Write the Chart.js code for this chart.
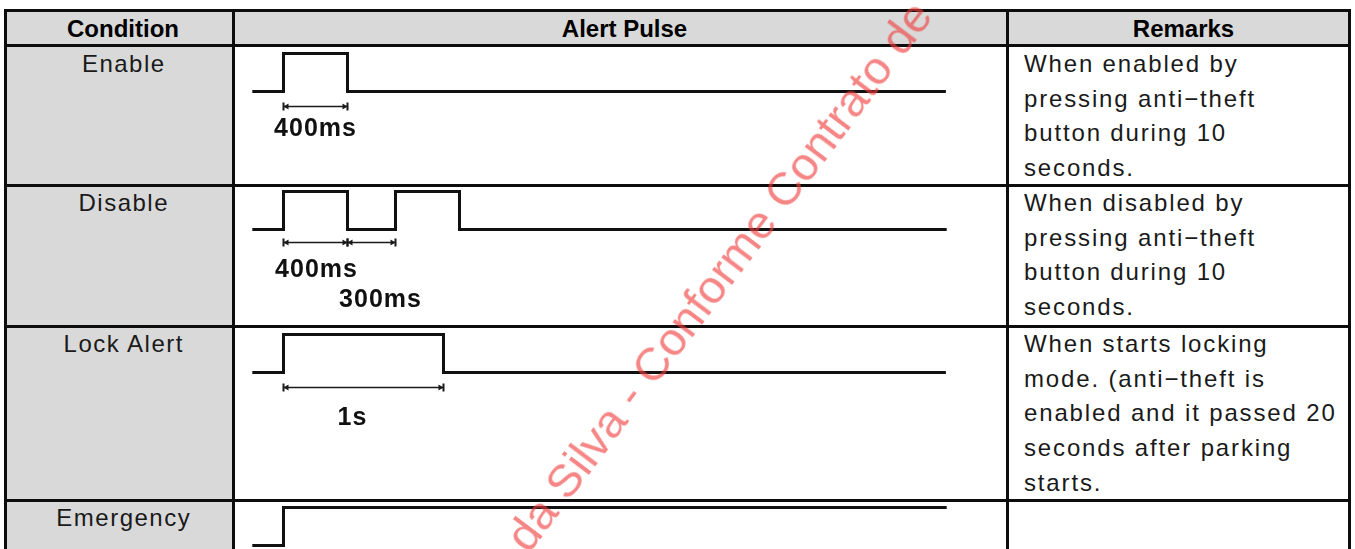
<!DOCTYPE html>
<html><head><meta charset="utf-8">
<script src="https://cdn.jsdelivr.net/npm/chart.js@4.4.0/dist/chart.umd.min.js"></script>
<style>
html,body{margin:0;padding:0;background:#fff;}
#page{position:relative;width:1355px;height:549px;overflow:hidden;background:#fff;font-family:"Liberation Sans",Arial,sans-serif;}
.fill{position:absolute;background:#d9d9d9;}
.hl{position:absolute;background:#0d0d0d;height:3px;}
.vl{position:absolute;background:#0d0d0d;width:3px;}
.hdr{position:absolute;font-weight:bold;font-size:24px;line-height:34px;color:#000;text-align:center;white-space:nowrap;width:400px;}
.cond{position:absolute;font-size:24px;line-height:34.7px;color:#1a1a1a;letter-spacing:1.5px;white-space:nowrap;text-align:center;width:300px;}
.rem{position:absolute;font-size:24px;line-height:34.7px;color:#1a1a1a;letter-spacing:1.85px;white-space:nowrap;}
canvas{position:absolute;}
#wm{position:absolute;font-size:47px;line-height:46px;color:rgba(240,60,60,0.62);white-space:nowrap;transform-origin:0 50%;transform:rotate(-53deg);pointer-events:none;z-index:10;}
</style></head><body><div id="page"></div>
<script>
// ---- data ----
const headers = ['Condition', 'Alert Pulse', 'Remarks'];
const conditions = ['Enable', 'Disable', 'Lock Alert', 'Emergency'];
const remarks = [
  ['When enabled by', 'pressing anti\u2212theft', 'button during 10', 'seconds.'],
  ['When disabled by', 'pressing anti\u2212theft', 'button during 10', 'seconds.'],
  ['When starts locking', 'mode. (anti\u2212theft is', 'enabled and it passed 20', 'seconds after parking', 'starts.'],
  []
];
// pulse waveforms: time (ms) and level (0 = low, 1 = high) after each transition
const enableTimes = [-195, 0, 400, 4140];
const enableLevels = [0, 1, 0, 0];
const disableTimes = [-195, 0, 400, 700, 1100, 4145];
const disableLevels = [0, 1, 0, 1, 0, 0];
const lockTimes = [-195, 0, 1000, 4140];
const lockLevels = [0, 1, 0, 0];
const emergencyTimes = [-195, 0, 4145];
const emergencyLevels = [0, 1, 1];
// dimension spans (ms) and their labels
const enableSpans = [[0, 400]];
const enableSpanLabels = ['400ms'];
const disableSpans = [[0, 400], [400, 700]];
const disableSpanLabels = ['400ms', '300ms'];
const lockSpans = [[0, 1000]];
const lockSpanLabels = ['1s'];
const emergencySpans = [];
const emergencySpanLabels = [];
const watermarkText = 'da Silva - Conforme Contrato de';

// ---- layout ----
const hLines = [9, 44, 184, 325, 499];
const vLines = [4, 232, 1006, 1348];
const headerCenters = [123, 624.5, 1183.5];
const textTops = [47, 186, 327, 501];
const chartTops = [46, 184, 327, 500];
const CH_LEFT = 235, CH_W = 771, CH_H = 140;
const PX_PER_MS = 0.16, ZERO_PX = 48.5;
const HIGH_PX = 7.5, LOW_PX = 45.5;
const rowLayouts = [
  {arrowDy: 15, labelDx: [0], labelDy: [37.5]},
  {arrowDy: 13, labelDx: [1, 9], labelDy: [41, 71]},
  {arrowDy: 14.5, labelDx: [-11], labelDy: [45.5]},
  {arrowDy: 14, labelDx: [], labelDy: []}
];

const page = document.getElementById('page');
function el(cls, css, text) {
  const d = document.createElement('div');
  d.className = cls; Object.assign(d.style, css);
  if (text !== undefined) d.textContent = text;
  page.appendChild(d); return d;
}
// fills
el('fill', {left: '6px', top: '11px', width: '1343px', height: '34px'});
el('fill', {left: '6px', top: '45px', width: '227px', height: '504px'});
// text
headers.forEach((h, i) => el('hdr', {left: (headerCenters[i] - 200) + 'px', top: '12px'}, h));
conditions.forEach((c, i) => el('cond', {left: (123 - 150 + 0.75) + 'px', top: (textTops[i] - 0.5) + 'px'}, c));
remarks.forEach((lines, i) => {
  const d = el('rem', {left: '1024px', top: textTops[i] + 'px'});
  d.innerHTML = lines.map(s => s.replace(/&/g, '&amp;').replace(/</g, '&lt;')).join('<br>');
});
// grid lines
hLines.forEach(y => el('hl', {left: '4px', top: y + 'px', width: '1347px'}));
vLines.forEach(x => el('vl', {left: x + 'px', top: '9px', height: '540px'}));

// charts
const xMin = -ZERO_PX / PX_PER_MS;
const xMax = xMin + CH_W / PX_PER_MS;
const pxPerUnit = LOW_PX - HIGH_PX;
const yMax = 1 + HIGH_PX / pxPerUnit;
const yMin = -(CH_H - LOW_PX) / pxPerUnit;

function dimPlugin(spans, labels, lay) {
  return {
    id: 'dims',
    afterDatasetsDraw(chart) {
      const ctx = chart.ctx, xs = chart.scales.x, ys = chart.scales.y;
      const yLow = ys.getPixelForValue(0);
      ctx.save();
      spans.forEach((s, i) => {
        const x1 = xs.getPixelForValue(s[0]), x2 = xs.getPixelForValue(s[1]);
        const y = Math.round(yLow + lay.arrowDy) + 0.5;
        ctx.strokeStyle = '#1a1a1a'; ctx.fillStyle = '#1a1a1a';
        ctx.lineWidth = 1.3;
        ctx.beginPath(); ctx.moveTo(x1, y); ctx.lineTo(x2, y); ctx.stroke();
        ctx.lineWidth = 2;
        ctx.beginPath();
        ctx.moveTo(x1, y - 4); ctx.lineTo(x1, y + 4);
        ctx.moveTo(x2, y - 4); ctx.lineTo(x2, y + 4);
        ctx.stroke();
        ctx.beginPath();
        ctx.moveTo(x1, y); ctx.lineTo(x1 + 5, y - 3); ctx.lineTo(x1 + 5, y + 3); ctx.closePath();
        ctx.moveTo(x2, y); ctx.lineTo(x2 - 5, y - 3); ctx.lineTo(x2 - 5, y + 3); ctx.closePath();
        ctx.fill();
        ctx.font = 'bold 25px "Liberation Sans", Arial, sans-serif';
        if ('letterSpacing' in ctx) ctx.letterSpacing = '1px';
        ctx.textAlign = 'center'; ctx.textBaseline = 'middle';
        ctx.fillStyle = '#111';
        ctx.fillText(labels[i], (x1 + x2) / 2 + lay.labelDx[i], yLow + lay.labelDy[i]);
      });
      ctx.restore();
    }
  };
}

function makeChart(row, times, levels, spans, spanLabels) {
  const c = document.createElement('canvas');
  c.width = CH_W; c.height = CH_H;
  c.style.left = CH_LEFT + 'px'; c.style.top = chartTops[row] + 'px';
  c.style.width = CH_W + 'px'; c.style.height = CH_H + 'px';
  page.appendChild(c);
  const data = times.map((t, i) => ({x: t, y: levels[i]}));
  new Chart(c, {
    type: 'line',
    data: {datasets: [{data, stepped: true, borderColor: '#111', borderWidth: 3, pointRadius: 0,
      fill: false, borderJoinStyle: 'miter', borderCapStyle: 'butt', clip: false}]},
    options: {
      responsive: false, animation: false, events: [], devicePixelRatio: 1,
      layout: {padding: 0},
      scales: {
        x: {type: 'linear', display: false, min: xMin, max: xMax},
        y: {type: 'linear', display: false, min: yMin, max: yMax}
      },
      plugins: {legend: {display: false}, tooltip: {enabled: false}}
    },
    plugins: [dimPlugin(spans, spanLabels, rowLayouts[row])]
  });
}
makeChart(0, enableTimes, enableLevels, enableSpans, enableSpanLabels);
makeChart(1, disableTimes, disableLevels, disableSpans, disableSpanLabels);
makeChart(2, lockTimes, lockLevels, lockSpans, lockSpanLabels);
makeChart(3, emergencyTimes, emergencyLevels, emergencySpans, emergencySpanLabels);

// watermark
const wm = document.createElement('div');
wm.id = 'wm'; wm.textContent = watermarkText;
wm.style.left = '516px'; wm.style.top = '522px';
page.appendChild(wm);
</script>
</body></html>
